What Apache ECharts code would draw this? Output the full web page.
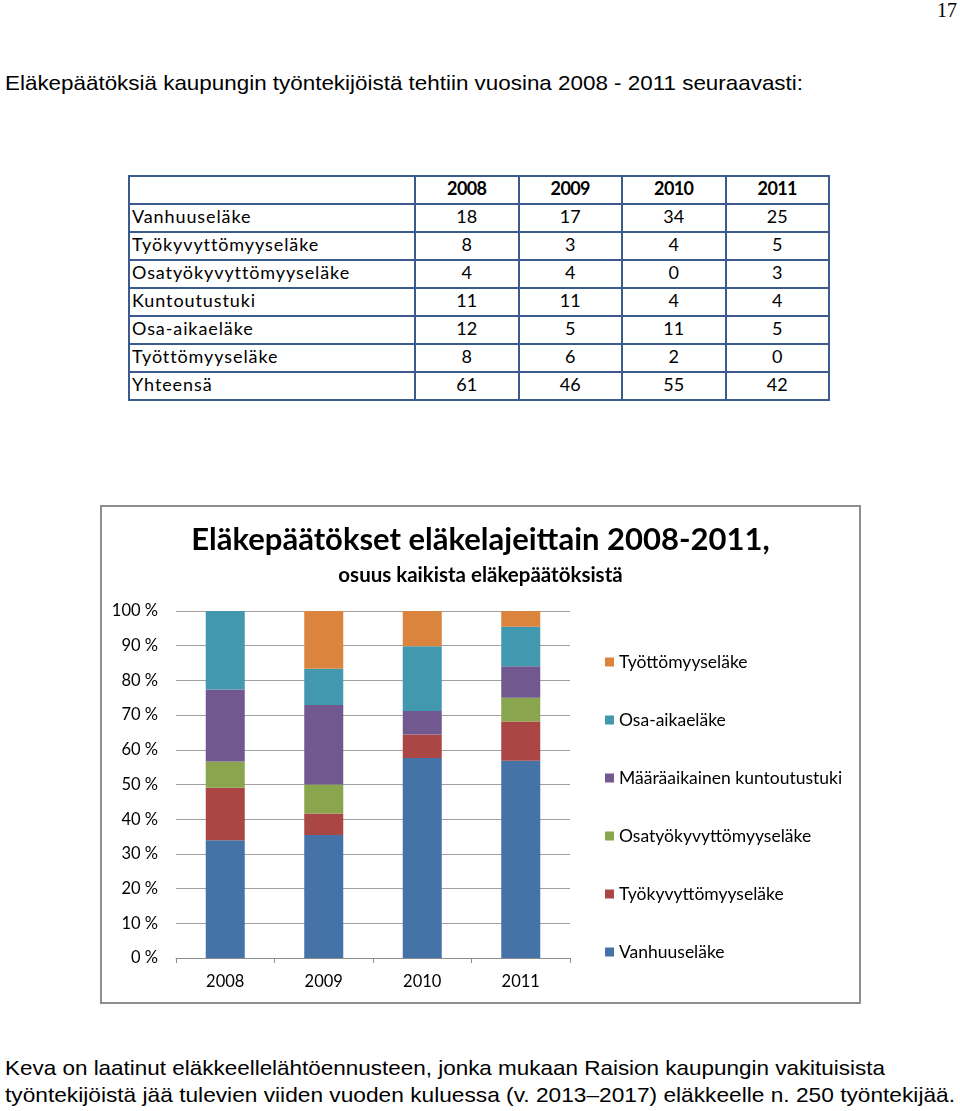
<!DOCTYPE html>
<html>
<head>
<meta charset="utf-8">
<script src="https://cdn.jsdelivr.net/npm/echarts@6/dist/echarts.min.js"></script>
<style>
  html, body { margin: 0; padding: 0; background: #fff; }
  body { width: 960px; height: 1111px; position: relative; overflow: hidden; }
  .fit { position: absolute; left: 5px; white-space: nowrap; font-family: "Liberation Sans", Arial, sans-serif; font-size: 21px; line-height: 21px; color: #000; transform-origin: 0 0; }
  #pnum { position: absolute; right: 3px; top: 0px; font-family: "Liberation Serif", "Times New Roman", serif; font-size: 20px; line-height: 20px; }
  table { position: absolute; left: 128px; top: 175px; border-collapse: collapse; font-family: Lato, sans-serif; font-size: 18px; color: #000; table-layout: fixed; }
  td { border: 2px solid #3B5B8E; height: 23px; padding: 0 4px 3px 4px; line-height: 23px; overflow: hidden; white-space: nowrap; }
  td.num { text-align: center; width: 93.5px; }
  td.lbl { width: 278px; text-align: left; padding-left: 2px; letter-spacing: 0.9px; }
  tr.hdr td { font-weight: bold; letter-spacing: -0.6px; }
  #chart { position: absolute; left: 100px; top: 505px; width: 761px; height: 499px; box-sizing: border-box; border: 2px solid #8E8E8E; }
</style>
</head>
<body>
<div id="pnum">17</div>
<div class="fit" id="head" data-w="798" style="top:72px">Eläkepäätöksiä kaupungin työntekijöistä tehtiin vuosina 2008 - 2011 seuraavasti:</div>
<table id="tbl"></table>
<div id="chart"></div>
<div class="fit" id="foot1" data-w="880" style="top:1057px">Keva on laatinut eläkkeellelähtöennusteen, jonka mukaan Raision kaupungin vakituisista</div>
<div class="fit" id="foot2" data-w="950" style="top:1084px">työntekijöistä jää tulevien viiden vuoden kuluessa (v. 2013–2017) eläkkeelle n. 250 työntekijää.</div>
<script>
// ---- Table data (as printed in the table) ----
var tableYears = ['2008', '2009', '2010', '2011'];
var tableLabels = ['Vanhuuseläke', 'Työkyvyttömyyseläke', 'Osatyökyvyttömyyseläke', 'Kuntoutustuki', 'Osa-aikaeläke', 'Työttömyyseläke', 'Yhteensä'];
var tVanhuus = [18, 17, 34, 25];
var tTyokyvyt = [8, 3, 4, 5];
var tOsatyokyvyt = [4, 4, 0, 3];
var tKuntoutus = [11, 11, 4, 4];
var tOsaAika = [12, 5, 11, 5];
var tTyottomyys = [8, 6, 2, 0];
var tYhteensa = [61, 46, 55, 42];

// ---- Chart data (counts behind the 100 % stacked bars) ----
var chartYears = ['2008', '2009', '2010', '2011'];
var seriesNames = ['Vanhuuseläke', 'Työkyvyttömyyseläke', 'Osatyökyvyttömyyseläke', 'Määräaikainen kuntoutustuki', 'Osa-aikaeläke', 'Työttömyyseläke'];
var cVanhuus = [18, 17, 34, 25];
var cTyokyvyt = [8, 3, 4, 5];
var cOsatyokyvyt = [4, 4, 0, 3];
var cKuntoutus = [11, 11, 4, 4];
var cOsaAika = [12, 5, 11, 5];
var cTyottomyys = [0, 8, 6, 2];
var yTicks = [0, 10, 20, 30, 40, 50, 60, 70, 80, 90, 100];

var seriesColors = ['#4572A7', '#AA4643', '#89A54E', '#71588F', '#4198AF', '#DB843D'];

// build table
(function () {
  var rows = [tVanhuus, tTyokyvyt, tOsatyokyvyt, tKuntoutus, tOsaAika, tTyottomyys, tYhteensa];
  var html = '<tr class="hdr"><td class="lbl"></td>' + tableYears.map(function (y) { return '<td class="num">' + y + '</td>'; }).join('') + '</tr>';
  rows.forEach(function (r, i) {
    html += '<tr><td class="lbl">' + tableLabels[i] + '</td>' + r.map(function (v) { return '<td class="num">' + v + '</td>'; }).join('') + '</tr>';
  });
  document.getElementById('tbl').innerHTML = html;
})();

// fit text lines to their widths
Array.prototype.forEach.call(document.querySelectorAll('.fit'), function (el) {
  var w = el.getBoundingClientRect().width;
  var target = +el.getAttribute('data-w');
  el.style.transform = 'scaleX(' + (target / w) + ')';
});

var raw = [cVanhuus, cTyokyvyt, cOsatyokyvyt, cKuntoutus, cOsaAika, cTyottomyys];
var totals = chartYears.map(function (_, j) { return raw.reduce(function (s, r) { return s + r[j]; }, 0); });
var shares = raw.map(function (r) { return r.map(function (v, j) { return v / totals[j] * 100; }); });

var chart = echarts.init(document.getElementById('chart'));
var F = 'Lato, sans-serif';
chart.setOption({
  animation: false,
  textStyle: { fontFamily: F },
  title: [
    { text: 'Eläkepäätökset eläkelajeittain 2008-2011,', left: 'center', top: 12,
      textStyle: { fontFamily: F, fontSize: 31, fontWeight: 'bold', color: '#000' } },
    { text: 'osuus kaikista eläkepäätöksistä', left: 'center', top: 53,
      textStyle: { fontFamily: F, fontSize: 20.5, fontWeight: 'bold', color: '#000' } }
  ],
  legend: {
    orient: 'vertical', left: 503, top: 146, itemGap: 40, itemWidth: 9, itemHeight: 9, padding: 0,
    icon: 'rect',
    data: seriesNames.slice().reverse(),
    textStyle: { fontFamily: F, fontSize: 17.5, color: '#000' }
  },
  grid: { left: 74, top: 104, right: 289, bottom: 44 },
  xAxis: {
    type: 'category', data: chartYears,
    axisLine: { lineStyle: { color: '#8C8C8C', width: 1 } },
    axisTick: { show: true, length: 5, lineStyle: { color: '#8C8C8C' } },
    axisLabel: { fontFamily: F, fontSize: 16.5, color: '#000', margin: 15 }
  },
  yAxis: {
    type: 'value', min: yTicks[0], max: yTicks[yTicks.length - 1], interval: 10,
    axisLine: { show: false },
    axisTick: { show: false },
    splitLine: { lineStyle: { color: '#A0A0A0', width: 1 } },
    axisLabel: { fontFamily: F, fontSize: 16.5, color: '#000', margin: 18, formatter: '{value} %' }
  },
  series: seriesNames.map(function (n, i) {
    return { name: n, type: 'bar', stack: 'all', barWidth: 39, data: shares[i],
      itemStyle: { color: seriesColors[i] } };
  })
});
</script>
</body>
</html>
